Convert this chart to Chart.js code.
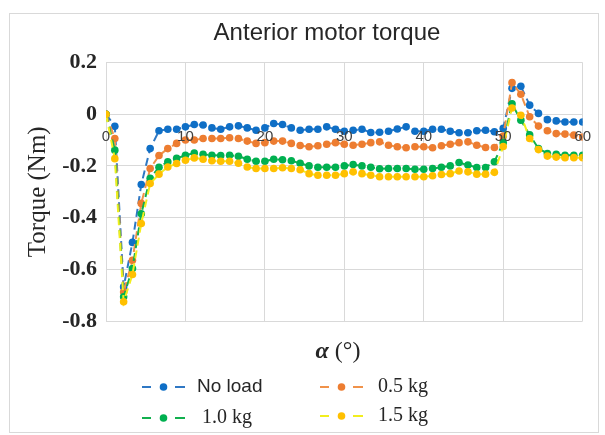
<!DOCTYPE html>
<html>
<head>
<meta charset="utf-8">
<title>Anterior motor torque</title>
<script src="https://cdn.jsdelivr.net/npm/chart.js@4.4.1/dist/chart.umd.min.js"></script>
<style>
  html, body { margin: 0; padding: 0; background: #fff; }
  #wrap { position: relative; width: 605px; height: 435px; }
</style>
</head>
<body>
<div id="wrap"><canvas id="torque" width="605" height="435"></canvas></div>
<script>
// joint angle of each sample, degrees
const angle = [
  0, 1.11, 2.22, 3.33, 4.44, 5.56, 6.67, 7.78, 8.89, 10,
  11.11, 12.22, 13.33, 14.44, 15.56, 16.67, 17.78, 18.89, 20,
  21.11, 22.22, 23.33, 24.44, 25.56, 26.67, 27.78, 28.89, 30,
  31.11, 32.22, 33.33, 34.44, 35.56, 36.67, 37.78, 38.89, 40,
  41.11, 42.22, 43.33, 44.44, 45.56, 46.67, 47.78, 48.89, 50,
  51.11, 52.22, 53.33, 54.44, 55.56, 56.67, 57.78, 58.89, 60
];

const seriesNames = ['No load', '0.5 kg', '1.0 kg', '1.5 kg'];

// motor torque, Nm
const noLoad = [
  0, -0.047, -0.668, -0.496, -0.272, -0.133, -0.064, -0.058, -0.058, -0.049,
  -0.040, -0.042, -0.053, -0.058, -0.049, -0.045, -0.053, -0.062, -0.053,
  -0.036, -0.040, -0.053, -0.062, -0.058, -0.058, -0.049, -0.058, -0.066,
  -0.062, -0.058, -0.071, -0.070, -0.066, -0.057, -0.049, -0.066, -0.066,
  -0.058, -0.058, -0.066, -0.072, -0.072, -0.064, -0.062, -0.068, -0.055,
  0.100, 0.108, 0.035, 0.003, -0.021, -0.026, -0.030, -0.030, -0.030
];
const load05 = [
  0, -0.094, -0.688, -0.565, -0.345, -0.210, -0.160, -0.133, -0.113, -0.100,
  -0.100, -0.094, -0.094, -0.094, -0.091, -0.094, -0.104, -0.113, -0.110,
  -0.104, -0.104, -0.113, -0.121, -0.126, -0.122, -0.116, -0.110, -0.116,
  -0.120, -0.116, -0.110, -0.107, -0.120, -0.126, -0.130, -0.126, -0.126,
  -0.130, -0.122, -0.116, -0.110, -0.107, -0.120, -0.129, -0.129, -0.085,
  0.122, 0.077, -0.010, -0.046, -0.064, -0.075, -0.077, -0.081, -0.088
];
const load10 = [
  0, -0.139, -0.706, -0.597, -0.385, -0.248, -0.205, -0.184, -0.171, -0.159,
  -0.150, -0.155, -0.159, -0.160, -0.159, -0.163, -0.174, -0.182, -0.182,
  -0.174, -0.176, -0.180, -0.190, -0.200, -0.205, -0.205, -0.205, -0.200,
  -0.195, -0.200, -0.205, -0.211, -0.210, -0.210, -0.210, -0.213, -0.213,
  -0.210, -0.205, -0.200, -0.187, -0.197, -0.206, -0.206, -0.184, -0.110,
  0.040, -0.023, -0.080, -0.133, -0.152, -0.155, -0.159, -0.159, -0.159
];
const load15 = [
  0, -0.172, -0.726, -0.620, -0.423, -0.268, -0.232, -0.204, -0.191, -0.178,
  -0.169, -0.174, -0.180, -0.182, -0.182, -0.190, -0.204, -0.210, -0.210,
  -0.210, -0.207, -0.210, -0.215, -0.230, -0.236, -0.236, -0.236, -0.230,
  -0.223, -0.230, -0.236, -0.242, -0.242, -0.242, -0.242, -0.242, -0.242,
  -0.238, -0.233, -0.230, -0.220, -0.223, -0.232, -0.232, -0.225, -0.125,
  0.024, -0.004, -0.094, -0.137, -0.162, -0.166, -0.168, -0.168, -0.168
];

const lineColors = ['#2f78c4', '#f0924a', '#12b04e', '#f2ee1e'];
const dotColors = ['#0f6fc6', '#ed7d31', '#00b050', '#ffc000'];

function points(values) {
  return angle.map((a, i) => ({ x: a, y: values[i] }));
}

const datasets = [noLoad, load05, load10, load15].map((vals, k) => ({
  label: seriesNames[k],
  data: points(vals),
  borderColor: lineColors[k],
  borderWidth: 2,
  borderDash: [8, 5],
  pointRadius: 3.8,
  pointBorderWidth: 0,
  pointBackgroundColor: dotColors[k],
  tension: 0,
  order: 4 - k   // later series sit on top
}));

// white card with a thin grey frame
const framePlugin = {
  id: 'frame',
  beforeDraw(chart) {
    const ctx = chart.ctx;
    ctx.save();
    ctx.fillStyle = '#ffffff';
    ctx.fillRect(0, 0, chart.width, chart.height);
    ctx.strokeStyle = '#d9d9d9';
    ctx.lineWidth = 1;
    ctx.strokeRect(9.5, 13.5, 589, 419);
    ctx.restore();
  }
};

// title, x axis caption and the two-column legend under the plot
const captionPlugin = {
  id: 'caption',
  afterDraw(chart, args, opts) {
    const ctx = chart.ctx;
    ctx.save();
    ctx.fillStyle = '#262626';
    ctx.textBaseline = 'middle';

    ctx.textAlign = 'center';
    ctx.font = '24px "Liberation Sans"';
    ctx.fillText(opts.title.text, opts.title.x, opts.title.y);

    ctx.textAlign = 'left';
    const alpha = 'α';
    const rest = ' (°)';
    ctx.font = 'italic bold 24px "Liberation Serif"';
    const wa = ctx.measureText(alpha).width;
    ctx.font = '24px "Liberation Serif"';
    const wr = ctx.measureText(rest).width;
    const x = opts.xTitle.x - (wa + wr) / 2;
    ctx.font = 'italic bold 24px "Liberation Serif"';
    ctx.fillText(alpha, x, opts.xTitle.y);
    ctx.font = '24px "Liberation Serif"';
    ctx.fillText(rest, x + wa, opts.xTitle.y);

    opts.slots.forEach((s, k) => {
      const ds = chart.data.datasets[k];
      ctx.strokeStyle = ds.borderColor;
      ctx.lineWidth = 2;
      ctx.beginPath();
      ctx.moveTo(s.x, s.y);
      ctx.lineTo(s.x + 9, s.y);
      ctx.moveTo(s.x + 33, s.y);
      ctx.lineTo(s.x + 43, s.y);
      ctx.stroke();
      ctx.fillStyle = ds.pointBackgroundColor;
      ctx.beginPath();
      ctx.arc(s.x + 21.5, s.y, 3.8, 0, Math.PI * 2);
      ctx.fill();
      ctx.fillStyle = '#262626';
      ctx.font = s.font;
      ctx.fillText(ds.label, s.textX, s.y);
    });
    ctx.restore();
  }
};

new Chart(document.getElementById('torque'), {
  type: 'line',
  data: { datasets: datasets },
  options: {
    responsive: false,
    animation: false,
    devicePixelRatio: 1,
    layout: { padding: { left: 0, right: 17, top: 62.5, bottom: 114 } },
    plugins: {
      legend: { display: false },
      tooltip: { enabled: false },
      title: { display: false },
      caption: {
        title: { text: 'Anterior motor torque', x: 327, y: 33 },
        xTitle: { x: 338, y: 352 },
        slots: [
          { x: 142, y: 387, textX: 197, font: '19px "Liberation Sans"' },
          { x: 320, y: 387, textX: 378, font: '20px "Liberation Serif"' },
          { x: 142, y: 418, textX: 202, font: '20px "Liberation Serif"' },
          { x: 320, y: 416, textX: 378, font: '20px "Liberation Serif"' }
        ]
      }
    },
    scales: {
      x: {
        type: 'linear',
        position: { y: 0 },
        min: 0,
        max: 60,
        border: { display: false },
        grid: { color: '#d9d9d9', drawTicks: false },
        ticks: {
          stepSize: 10,
          padding: 14,
          z: 1,
          color: '#404040',
          font: { family: '"Liberation Sans", Arial, sans-serif', size: 15 }
        }
      },
      y: {
        min: -0.8,
        max: 0.2,
        border: { display: false },
        grid: { color: '#d9d9d9', drawTicks: false },
        afterFit(scale) { scale.width = 106; },
        ticks: {
          stepSize: 0.2,
          padding: 9,
          color: '#262626',
          font: { family: '"Liberation Serif", serif', size: 22, weight: 'bold' },
          callback: v => (Math.abs(v) < 1e-9 ? '0' : String(+v.toFixed(1)))
        },
        title: {
          display: true,
          text: 'Torque (Nm)',
          color: '#262626',
          padding: { top: 23 },
          font: { family: '"Liberation Serif", serif', size: 25 }
        }
      }
    }
  },
  plugins: [framePlugin, captionPlugin]
});
</script>
</body>
</html>
